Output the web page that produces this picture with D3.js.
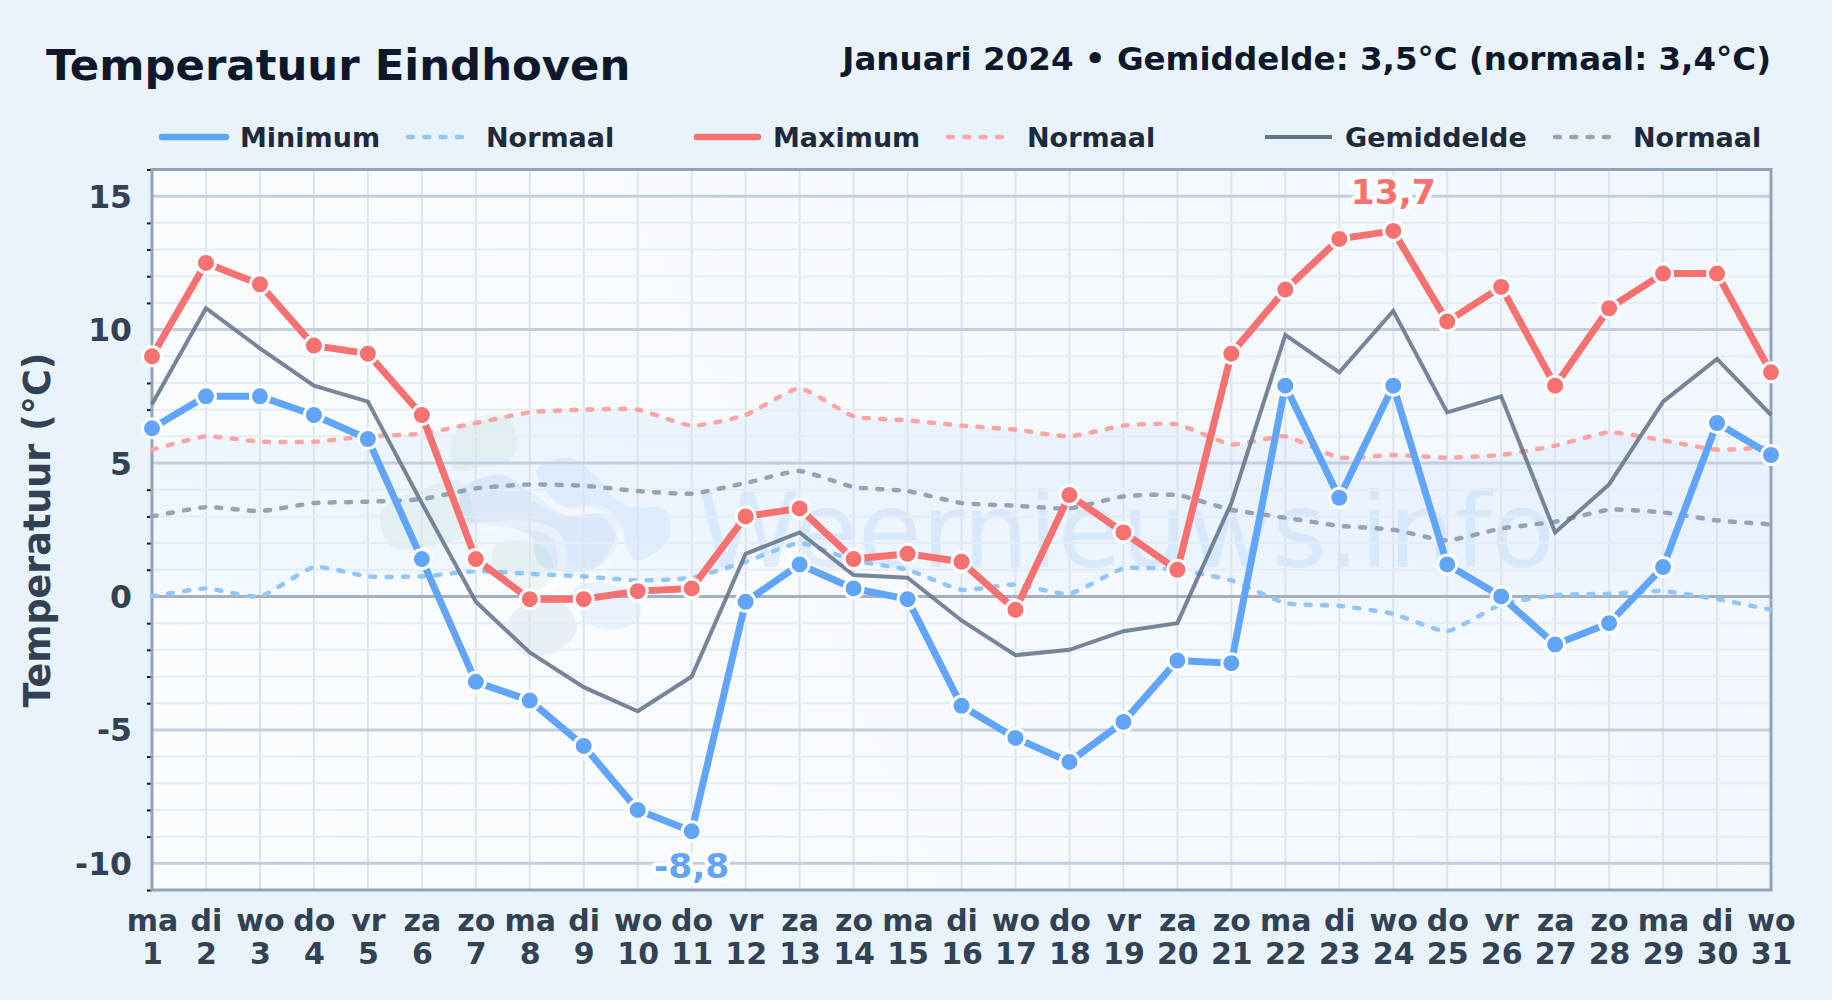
<!DOCTYPE html>
<html lang="nl">
<head>
  <meta charset="UTF-8" />
  <title>Temperatuur Eindhoven</title>
  <script src="https://d3js.org/d3.v7.min.js"></script>
  <style>
    body {
      margin: 0;
      overflow: hidden;
      background: #e8f3fc;
    }
    text {
      font-family: "DejaVu Sans", sans-serif;
      font-weight: bold;
    }
  </style>
</head>
<body>
<svg width="1832" height="1000"></svg>
<script>
const dayNames = ["ma","di","wo","do","vr","za","zo","ma","di","wo","do","vr","za","zo","ma","di","wo","do","vr","za","zo","ma","di","wo","do","vr","za","zo","ma","di","wo"];
const days = d3.range(1, 32);

const minimum = [6.3,7.5,7.5,6.8,5.9,1.4,-3.2,-3.9,-5.6,-8.0,-8.8,-0.2,1.2,0.3,-0.1,-4.1,-5.3,-6.2,-4.7,-2.4,-2.5,7.9,3.7,7.9,1.2,0.0,-1.8,-1.0,1.1,6.5,5.3];
const maximum = [9.0,12.5,11.7,9.4,9.1,6.8,1.4,-0.1,-0.1,0.2,0.3,3.0,3.3,1.4,1.6,1.3,-0.5,3.8,2.4,1.0,9.1,11.5,13.4,13.7,10.3,11.6,7.9,10.8,12.1,12.1,8.4];
const gemiddelde = [7.2,10.8,9.3,7.9,7.3,3.5,-0.2,-2.1,-3.4,-4.3,-3.0,1.6,2.4,0.8,0.7,-0.9,-2.2,-2.0,-1.3,-1.0,3.5,9.8,8.4,10.7,6.9,7.5,2.4,4.2,7.3,8.9,6.8];
const normaalMin = [0,0.3,0,1.1,0.75,0.75,0.95,0.85,0.75,0.6,0.7,1.3,2.0,1.35,1.0,0.25,0.45,0.1,1.05,1.0,0.6,-0.25,-0.35,-0.65,-1.3,-0.3,0.05,0.1,0.2,-0.1,-0.5];
const normaalMax = [5.5,6.0,5.8,5.8,6.0,6.1,6.5,6.9,7.0,7.0,6.4,6.8,7.8,6.75,6.6,6.4,6.25,6.0,6.4,6.45,5.7,6.0,5.2,5.3,5.2,5.3,5.65,6.15,5.85,5.5,5.6];
const normaalGem = [3.0,3.35,3.2,3.5,3.55,3.65,4.05,4.2,4.15,3.95,3.85,4.25,4.7,4.1,3.95,3.5,3.4,3.3,3.75,3.8,3.25,2.95,2.65,2.5,2.1,2.55,2.8,3.25,3.15,2.85,2.7];

const plotL = 152, plotR = 1771, plotT = 169.5, plotB = 890;
const BLUE = "#60a5fa", RED = "#f87171", GREY = "#64748b";
const BLUE_N = "#93c5fd", RED_N = "#fca5a5", GREY_N = "#94a3b8";
const DASH = "5 11.3";

const x = d3.scaleLinear().domain([1, 31]).range([plotL, plotR]);
const y = d3.scaleLinear().domain([-11, 16]).range([plotB, plotT]);
const majorTicks = [-10, -5, 0, 5, 10, 15];
const minorTicks = d3.range(-11, 17).filter(v => v % 5 !== 0);

const svg = d3.select("svg");
const defs = svg.append("defs");

function gradient(id, attrs, stops) {
  const g = defs.append("linearGradient").attr("id", id).attr("gradientUnits", "userSpaceOnUse");
  Object.entries(attrs).forEach(([k, v]) => g.attr(k, v));
  stops.forEach(s => g.append("stop").attr("offset", s[0]).attr("stop-color", s[1]).attr("stop-opacity", s[2]));
}
gradient("plotBg", {x1: plotL, y1: plotB, x2: plotR, y2: plotT}, [[0, "#fafdff", 1], [0.5, "#f6fafe", 1], [1, "#f1f7fe", 1]]);
gradient("bandFill", {x1: 0, y1: y(8), x2: 0, y2: y(-1.5)}, [[0, "#60a5fa", 0.09], [0.7, "#60a5fa", 0.06], [1, "#60a5fa", 0.005]]);

svg.append("rect").attr("width", 1832).attr("height", 1000).attr("fill", "#e8f3fc");
svg.append("rect").attr("x", plotL).attr("y", plotT).attr("width", plotR - plotL).attr("height", plotB - plotT).attr("fill", "url(#plotBg)");

// watermark logo
const blob = d3.line().curve(d3.curveCatmullRomClosed.alpha(0.5));
const arc = d3.line().curve(d3.curveCatmullRom.alpha(0.5));
const logoBlobs = [
  {c: "#a3d18f", o: 0.13, p: [[452,440],[475,418],[505,415],[517,440],[510,460],[478,468],[455,470]]},
  {c: "#a3d18f", o: 0.13, p: [[382,510],[420,490],[462,482],[470,530],[430,546],[390,546]]},
  {c: "#a3d18f", o: 0.13, p: [[495,545],[540,545],[553,565],[540,590],[515,590],[495,570]]},
  {c: "#4f8fdc", o: 0.12, p: [[462,490],[500,475],[535,495],[565,515],[610,515],[617,545],[590,570],[540,565],[530,535],[490,525],[465,520]]},
  {c: "#60a5fa", o: 0.10, p: [[537,470],[570,458],[595,475],[625,505],[665,510],[668,540],[635,560],[620,530],[600,510],[560,505]]},
  {c: "#8aa4c4", o: 0.13, p: [[507,625],[530,600],[565,605],[577,630],[555,652],[525,655]]},
  {c: "#60a5fa", o: 0.10, p: [[574,590],[600,582],[638,600],[638,620],[610,630],[585,620]]}
];
const logoArcs = [
  [[535,497],[565,512],[600,510],[620,535],[605,565],[590,578]],
  [[480,527],[525,525],[555,535],[562,565],[548,590]]
];
const logo = svg.append("g");
logo.selectAll("path.blob").data(logoBlobs).join("path").attr("class", "blob")
  .attr("d", d => blob(d.p))
  .attr("fill", d => d.c)
  .attr("fill-opacity", d => d.o);
logo.selectAll("path.arc").data(logoArcs).join("path").attr("class", "arc")
  .attr("d", d => arc(d))
  .attr("fill", "none").attr("stroke", "#fff").attr("stroke-opacity", 0.45)
  .attr("stroke-width", 9).attr("stroke-linecap", "round");
svg.append("text").attr("x", 697).attr("y", 567)
  .style("font-weight", "normal").style("font-size", "104px")
  .attr("fill", "#60a5fa").attr("fill-opacity", 0.14)
  .text("Weernieuws.info");

// band between the normal minimum and maximum
const normalCurve = d3.curveCardinal.tension(0.5);
svg.append("path")
  .attr("d", d3.area().curve(normalCurve).x((d, i) => x(days[i])).y0((d, i) => y(normaalMin[i])).y1(d => y(d))(normaalMax))
  .attr("fill", "url(#bandFill)");

// grid
const grid = svg.append("g");
grid.selectAll(".v").data(days.slice(1, -1)).join("line").attr("class", "v")
  .attr("x1", d => x(d)).attr("x2", d => x(d)).attr("y1", plotT).attr("y2", plotB)
  .attr("stroke", "#dde4ee").attr("stroke-width", 2);
grid.selectAll(".minor").data(minorTicks).join("line").attr("class", "minor")
  .attr("x1", plotL).attr("x2", plotR).attr("y1", d => y(d)).attr("y2", d => y(d))
  .attr("stroke", "#e6ecf3").attr("stroke-width", 2);
grid.selectAll(".major").data(majorTicks).join("line").attr("class", "major")
  .attr("x1", plotL).attr("x2", plotR).attr("y1", d => y(d)).attr("y2", d => y(d))
  .attr("stroke", d => d === 0 ? "#a3afc2" : "#c3cfdf").attr("stroke-width", 3);

// axes
const yMinor = d3.axisLeft(y).tickValues(minorTicks).tickSize(5).tickFormat("");
svg.append("g").attr("transform", `translate(${plotL},0)`).call(yMinor)
  .call(g => g.select(".domain").remove())
  .selectAll("line").attr("stroke", "#111827").attr("stroke-width", 2);

const yAxis = d3.axisLeft(y).tickValues(majorTicks).tickSize(0).tickPadding(20).tickFormat(d => String(d));
svg.append("g").attr("transform", `translate(${plotL},1)`).call(yAxis)
  .call(g => g.select(".domain").remove())
  .selectAll("text")
  .style("font-size", "31.5px").attr("fill", "#334155");

const xAxis = d3.axisBottom(x).tickValues(days).tickSize(0).tickFormat("");
const xg = svg.append("g").attr("transform", `translate(0,${plotB})`).call(xAxis);
xg.select(".domain").remove();
xg.selectAll(".tick").each(function(d, i) {
  const t = d3.select(this).select("text").attr("y", 0).attr("dy", 0).attr("fill", "#334155").style("font-size", "30px");
  t.append("tspan").attr("x", 0).attr("y", 41).text(dayNames[i]);
  t.append("tspan").attr("x", 0).attr("y", 74).text(d);
});

svg.append("rect").attr("x", plotL).attr("y", plotT).attr("width", plotR - plotL).attr("height", plotB - plotT)
  .attr("fill", "none").attr("stroke", "#94a3b8").attr("stroke-width", 3);

// series
const smooth = d3.line().curve(normalCurve).x((d, i) => x(days[i])).y(d => y(d));
const straight = d3.line().x((d, i) => x(days[i])).y(d => y(d));

[[normaalMin, BLUE_N], [normaalMax, RED_N], [normaalGem, GREY_N]].forEach(([vals, col]) => {
  svg.append("path").attr("d", smooth(vals)).attr("fill", "none")
    .attr("stroke", col).attr("stroke-width", 4.5)
    .attr("stroke-dasharray", DASH).attr("stroke-linecap", "round");
});

svg.append("path").attr("d", straight(gemiddelde)).attr("fill", "none")
  .attr("stroke", GREY).attr("stroke-width", 4).attr("opacity", 0.88);

[[minimum, BLUE], [maximum, RED]].forEach(([vals, col]) => {
  svg.append("path").attr("d", straight(vals)).attr("fill", "none")
    .attr("stroke", col).attr("stroke-width", 7).attr("stroke-linejoin", "round");
  svg.append("g").selectAll("circle").data(vals).join("circle")
    .attr("cx", (d, i) => x(days[i])).attr("cy", d => y(d)).attr("r", 9.5)
    .attr("fill", col).attr("stroke", "#fff").attr("stroke-width", 3);
});

// extreme labels
const fmt = v => String(v).replace(".", ",");
function extreme(vals, col, dy) {
  const v = col === RED ? d3.max(vals) : d3.min(vals);
  const i = vals.indexOf(v);
  svg.append("text").attr("x", x(days[i])).attr("y", y(v) + dy)
    .attr("text-anchor", "middle").style("font-size", "34.5px")
    .attr("fill", col).attr("stroke", "#fff").attr("stroke-width", 8)
    .attr("stroke-linejoin", "round").attr("paint-order", "stroke")
    .text(fmt(v));
}
extreme(maximum, RED, -27);
extreme(minimum, BLUE, 47);

// titles
svg.append("text").attr("x", 46).attr("y", 80).style("font-size", "43.4px").attr("fill", "#0f172a").text("Temperatuur Eindhoven");
svg.append("text").attr("x", 1771).attr("y", 70).attr("text-anchor", "end").style("font-size", "32.5px").attr("fill", "#0f172a")
  .text("Januari 2024 • Gemiddelde: 3,5°C (normaal: 3,4°C)");
svg.append("text").attr("transform", "translate(50,530) rotate(-90)").attr("text-anchor", "middle")
  .style("font-size", "36.5px").attr("fill", "#334155").text("Temperatuur (°C)");

// legend
const legendItems = [
  {label: "Minimum", col: BLUE, x1: 162, x2: 226, tx: 240, w: 6.5, dash: null},
  {label: "Normaal", col: BLUE_N, x1: 408, x2: 464, tx: 486, w: 4.5, dash: DASH},
  {label: "Maximum", col: RED, x1: 697, x2: 758, tx: 773, w: 6.5, dash: null},
  {label: "Normaal", col: RED_N, x1: 948, x2: 1005, tx: 1027, w: 4.5, dash: DASH},
  {label: "Gemiddelde", col: GREY, x1: 1265, x2: 1332, tx: 1345, w: 4, dash: null},
  {label: "Normaal", col: GREY_N, x1: 1555, x2: 1618, tx: 1633, w: 4.5, dash: DASH}
];
const legend = svg.append("g").selectAll("g").data(legendItems).join("g");
legend.append("line")
  .attr("x1", d => d.x1).attr("x2", d => d.x2).attr("y1", 137).attr("y2", 137)
  .attr("stroke", d => d.col).attr("stroke-width", d => d.w)
  .attr("stroke-dasharray", d => d.dash).attr("stroke-linecap", d => d.label === "Gemiddelde" ? "butt" : "round");
legend.append("text").attr("x", d => d.tx).attr("y", 146.5)
  .style("font-size", "27px").attr("fill", "#1e293b").text(d => d.label);
</script>
</body>
</html>
